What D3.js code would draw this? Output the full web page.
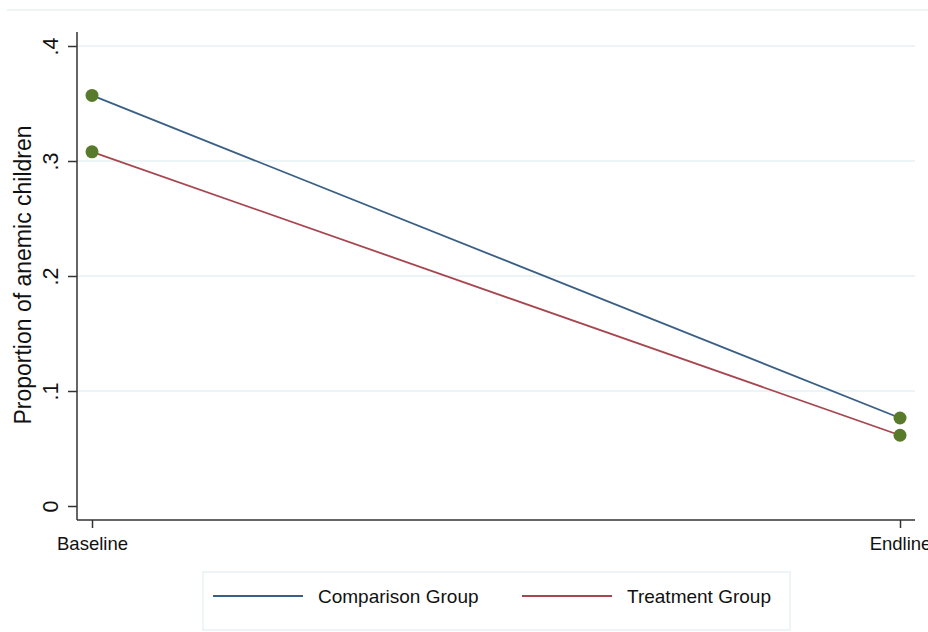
<!DOCTYPE html>
<html><head><meta charset="utf-8">
<script src="https://cdn.jsdelivr.net/npm/d3@7"></script>
<style>body{margin:0;background:#fff}svg{display:block;font-family:"Liberation Sans",Arial,sans-serif}</style>
</head><body><svg id="c" width="928" height="632"></svg>
<script>
const periods = ["Baseline", "Endline"];
const seriesNames = ["Comparison Group", "Treatment Group"];
const comparison = [0.357, 0.0765];
const treatment = [0.308, 0.0615];
const yTicks = [0, 0.1, 0.2, 0.3, 0.4];
const yTickLabels = ["0", ".1", ".2", ".3", ".4"];
const colors = ["#3a5f87", "#a6464f"];
const pointColor = "#587a2b";

const svg = d3.select("#c");
const x = d3.scalePoint().domain(periods).range([92, 900]);
const y = d3.scaleLinear().domain([0, 0.4]).range([506, 46]);
const pLeft = 77, pRight = 915, pBottom = 520, pTop = 32;

// top border line
svg.append("line").attr("x1", 7).attr("x2", 928).attr("y1", 10).attr("y2", 10)
  .attr("stroke", "#eef3f3").attr("stroke-width", 2);

// grid
svg.append("g").selectAll("line").data(yTicks.filter(d => d > 0)).join("line")
  .attr("x1", pLeft).attr("x2", pRight).attr("y1", d => y(d)).attr("y2", d => y(d))
  .attr("stroke", "#e6f0f2").attr("stroke-width", 1.5);

// y axis
const yAxis = svg.append("g").attr("transform", `translate(${pLeft},0)`)
  .call(d3.axisLeft(y).tickValues(yTicks).tickFormat((d, i) => yTickLabels[i]).tickSize(9).tickPadding(0).tickSizeOuter(0));
yAxis.select(".domain").remove();
yAxis.append("line").attr("x1", 0).attr("x2", 0).attr("y1", pTop).attr("y2", pBottom).attr("stroke", "#333").attr("stroke-width", 1.5);
yAxis.selectAll(".tick line").attr("stroke", "#333").attr("stroke-width", 1.5);
yAxis.selectAll(".tick text").attr("fill", "#111").attr("font-size", 21.5)
  .attr("text-anchor", "middle").attr("x", 0).attr("y", 0).attr("dy", 0)
  .attr("transform", "translate(-19,0) rotate(-90)");

// x axis
const xAxis = svg.append("g").attr("transform", `translate(0,${pBottom})`)
  .call(d3.axisBottom(x).tickSize(8).tickPadding(9).tickSizeOuter(0));
xAxis.select(".domain").remove();
xAxis.append("line").attr("x1", pLeft).attr("x2", pRight).attr("stroke", "#333").attr("stroke-width", 1.5);
xAxis.selectAll(".tick line").attr("stroke", "#333").attr("stroke-width", 1.5);
xAxis.selectAll(".tick text").attr("fill", "#111").attr("font-size", 18.5);

// y label
svg.append("text").attr("transform", `translate(31,${(pTop + pBottom) / 2 - 1}) rotate(-90)`)
  .attr("text-anchor", "middle").attr("font-size", 23).attr("fill", "#111")
  .text("Proportion of anemic children");

// lines
const line = d3.line().x((d, i) => x(periods[i])).y(d => y(d));
[comparison, treatment].forEach((s, k) => {
  svg.append("path").attr("d", line(s)).attr("fill", "none").attr("stroke", colors[k]).attr("stroke-width", 1.8);
});
[comparison, treatment].forEach(s => {
  svg.append("g").selectAll("circle").data(s).join("circle")
    .attr("cx", (d, i) => x(periods[i])).attr("cy", d => y(d)).attr("r", 6.5).attr("fill", pointColor);
});

// legend
const lg = svg.append("g");
lg.append("rect").attr("x", 203).attr("y", 572).attr("width", 587).attr("height", 58)
  .attr("fill", "#fff").attr("stroke", "#eaf1f3").attr("stroke-width", 1.5);
const legX = [213, 522];
seriesNames.forEach((n, k) => {
  lg.append("line").attr("x1", legX[k]).attr("x2", legX[k] + 90).attr("y1", 596).attr("y2", 596)
    .attr("stroke", colors[k]).attr("stroke-width", 2);
  lg.append("text").attr("x", legX[k] + 105).attr("y", 596).attr("dominant-baseline", "central")
    .attr("font-size", 19).attr("fill", "#111").text(n);
});
</script></body></html>
